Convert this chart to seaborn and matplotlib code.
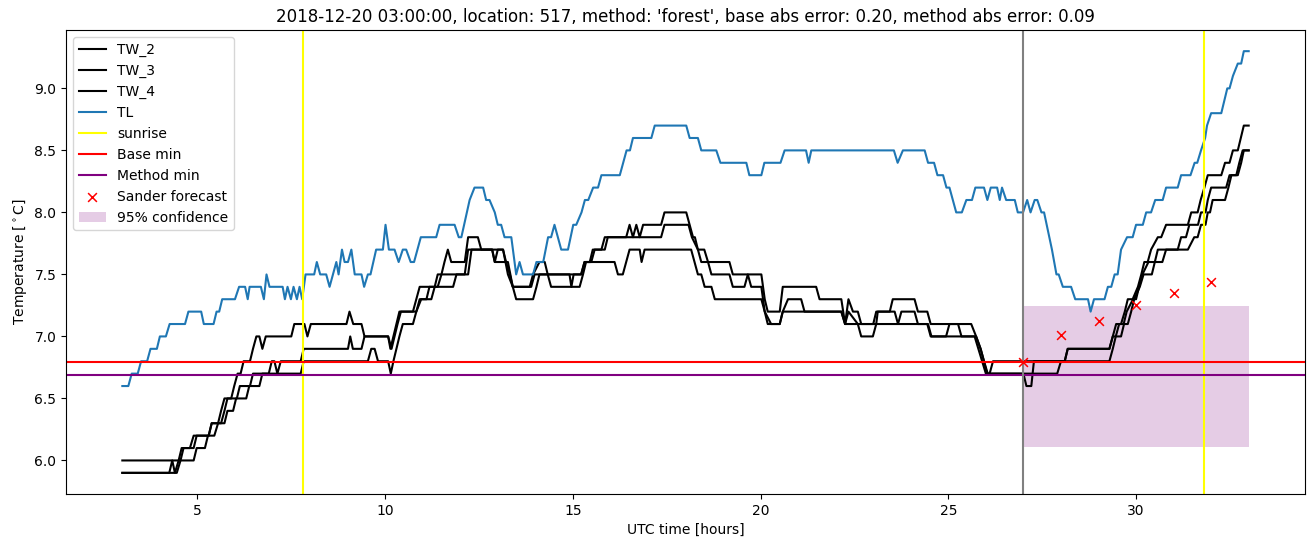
import numpy as np
import pandas as pd
import matplotlib
matplotlib.use("Agg")
import matplotlib.pyplot as plt
import seaborn as sns

# ---------------- data ----------------
title = ("2018-12-20 03:00:00, location: 517, method: 'forest', "
         "base abs error: 0.20, method abs error: 0.09")

# TL (air temperature) vertices: time [h], value [C]
tl_t = [3.0, 3.16, 3.25, 3.41, 3.50, 3.66, 3.75, 3.92, 4.00, 4.16, 4.26, 4.67, 4.76, 5.10, 5.17, 5.43,
        5.51, 5.58, 5.66, 6.00, 6.11, 6.27, 6.34, 6.39, 6.69, 6.77, 6.84, 6.92, 7.27, 7.33, 7.40, 7.49,
        7.56, 7.65, 7.72, 7.79, 7.88, 8.11, 8.18, 8.27, 8.43, 8.52, 8.70, 8.76, 8.85, 8.92, 9.01, 9.10,
        9.19, 9.37, 9.44, 9.54, 9.61, 9.76, 9.94, 10.01, 10.10, 10.25, 10.36, 10.47, 10.56, 10.68, 10.77,
        10.95, 11.36, 11.45, 11.85, 11.96, 12.03, 12.25, 12.38, 12.61, 12.69, 12.78, 12.92, 13.00, 13.09,
        13.18, 13.36, 13.49, 13.58, 13.67, 13.94, 14.03, 14.21, 14.34, 14.42, 14.51, 14.69, 14.87, 15.01,
        15.09, 15.23, 15.32, 15.41, 15.54, 15.67, 15.76, 16.25, 16.43, 16.52, 16.60, 17.09, 17.18, 18.02,
        18.11, 18.33, 18.42, 18.82, 18.93, 19.62, 19.70, 20.02, 20.10, 20.53, 20.64, 21.21, 21.28, 21.35,
        23.55, 23.65, 23.79, 24.37, 24.46, 24.62, 24.71, 24.86, 24.95, 25.03, 25.21, 25.36, 25.48, 25.63,
        25.72, 25.95, 26.04, 26.13, 26.30, 26.37, 26.43, 26.54, 26.77, 26.85, 26.99, 27.10, 27.19, 27.30,
        27.37, 27.48, 27.55, 27.76, 27.88, 27.94, 28.05, 28.27, 28.38, 28.72, 28.79, 28.88, 29.16, 29.25,
        29.34, 29.43, 29.51, 29.60, 29.76, 29.91, 30.00, 30.18, 30.27, 30.40, 30.51, 30.71, 30.80, 31.11,
        31.20, 31.45, 31.56, 31.63, 31.73, 31.84, 31.89, 32.00, 32.27, 32.43, 32.49, 32.58, 32.71, 32.80,
        32.87, 33.0]
tl_v = [6.6, 6.6, 6.7, 6.7, 6.8, 6.8, 6.9, 6.9, 7.0, 7.0, 7.1, 7.1, 7.2, 7.2, 7.1, 7.1,
        7.2, 7.2, 7.3, 7.3, 7.4, 7.4, 7.3, 7.4, 7.4, 7.3, 7.5, 7.4, 7.4, 7.3, 7.4, 7.3,
        7.4, 7.3, 7.4, 7.3, 7.5, 7.5, 7.6, 7.5, 7.5, 7.4, 7.6, 7.5, 7.7, 7.6, 7.6, 7.7,
        7.5, 7.5, 7.4, 7.5, 7.5, 7.7, 7.7, 7.9, 7.7, 7.7, 7.6, 7.7, 7.7, 7.6, 7.6,
        7.8, 7.8, 7.9, 7.9, 7.8, 7.8, 8.1, 8.2, 8.2, 8.1, 8.1, 8.0, 7.9, 7.9,
        7.8, 7.8, 7.5, 7.6, 7.5, 7.5, 7.6, 7.6, 7.8, 7.8, 7.9, 7.7, 7.7, 7.9,
        7.9, 8.0, 8.1, 8.1, 8.2, 8.2, 8.3, 8.3, 8.5, 8.5, 8.6, 8.6, 8.7, 8.7,
        8.6, 8.6, 8.5, 8.5, 8.4, 8.4, 8.3, 8.3, 8.4, 8.4, 8.5, 8.5, 8.4, 8.5,
        8.5, 8.4, 8.5, 8.5, 8.4, 8.4, 8.3, 8.3, 8.2, 8.2, 8.0, 8.0, 8.1, 8.1,
        8.2, 8.2, 8.1, 8.2, 8.2, 8.1, 8.2, 8.1, 8.1, 8.0, 8.0, 8.1, 8.0, 8.1,
        8.1, 8.0, 8.0, 7.7, 7.5, 7.5, 7.4, 7.4, 7.3, 7.3, 7.2, 7.3, 7.3, 7.4,
        7.4, 7.5, 7.5, 7.7, 7.8, 7.8, 7.9, 7.9, 8.0, 8.0, 8.1, 8.1, 8.2, 8.2,
        8.3, 8.3, 8.4, 8.4, 8.5, 8.6, 8.7, 8.8, 8.8, 9.0, 9.0, 9.1, 9.2, 9.2,
        9.3, 9.3]

# TW_2 vertices
tw2_t = [3.0, 4.55, 4.63, 4.80, 4.90, 5.30, 5.38, 5.55, 5.63, 5.72, 5.90, 5.98, 6.07, 6.15, 6.23, 6.40,
         6.48, 6.57, 6.65, 6.73, 6.82, 7.50, 7.58, 7.85, 7.93, 8.02, 8.97, 9.05, 9.15, 9.37, 9.45, 10.08,
         10.17, 10.25, 10.33, 10.42, 10.74, 10.83, 10.92, 11.40, 11.50, 11.58, 11.67, 11.76, 12.12, 12.21,
         12.47, 12.56, 13.14, 13.22, 13.32, 13.40,
         13.85, 13.94, 14.11, 14.25, 14.33, 14.42, 15.18, 15.27, 15.35, 15.49, 15.58, 15.85, 15.93, 16.42,
         16.51, 16.60, 16.69, 16.78, 16.87, 17.35, 17.44, 18.02, 18.11, 18.20, 18.25, 18.33, 18.50,
         18.60, 19.17, 19.26, 20.02, 20.11, 20.19, 20.51, 20.59, 21.48,
         21.57, 22.15, 22.25, 22.34, 22.46, 22.59, 22.68, 23.00, 23.08, 23.44, 23.52, 24.10, 24.19, 24.44,
         24.53, 25.61, 25.74, 25.86, 25.95, 26.03, 26.10, 26.19, 28.10, 28.18, 29.29, 29.38, 29.47, 29.60,
         29.70, 29.78, 29.91, 30.05, 30.14, 30.22, 30.31, 30.40, 30.58, 30.67, 30.80, 31.38, 31.47, 31.64,
         31.72, 31.82, 31.91, 32.27, 32.37, 32.49, 32.58, 32.71, 32.87, 33.0]
tw2_v = [6.0, 6.0, 6.1, 6.1, 6.2, 6.2, 6.3, 6.3, 6.4, 6.5, 6.5, 6.6, 6.7, 6.7, 6.8, 6.8,
         6.9, 7.0, 7.0, 6.9, 7.0, 7.0, 7.1, 7.1, 7.0, 7.1, 7.1, 7.2, 7.1, 7.1, 7.0, 7.0,
         6.9, 7.0, 7.1, 7.2, 7.2, 7.3, 7.4, 7.4, 7.5, 7.6, 7.7, 7.6, 7.6, 7.8,
         7.8, 7.7, 7.7, 7.6, 7.5, 7.4,
         7.4, 7.5, 7.6, 7.6, 7.5, 7.4, 7.4, 7.5, 7.6, 7.6, 7.7, 7.7, 7.8, 7.8,
         7.9, 7.8, 7.9, 7.8, 7.9, 7.9, 8.0, 8.0, 7.9, 7.8, 7.8, 7.7, 7.7,
         7.6, 7.6, 7.5, 7.5, 7.3, 7.2, 7.2, 7.4, 7.4,
         7.3, 7.3, 7.1, 7.3, 7.2, 7.2, 7.1, 7.1, 7.2, 7.2, 7.3, 7.3, 7.2, 7.2,
         7.1, 7.1, 7.0, 6.9, 6.8, 6.7, 6.7, 6.8, 6.8, 6.9, 6.9, 7.0, 7.1, 7.1,
         7.2, 7.3, 7.3, 7.4, 7.5, 7.6, 7.6, 7.7, 7.8, 7.8, 7.9, 7.9, 8.0, 8.0,
         8.1, 8.2, 8.3, 8.3, 8.4, 8.4, 8.5, 8.5, 8.7, 8.7]

# TW_3 vertices
tw3_t = [3.0, 4.25, 4.33, 4.40, 4.50, 4.58, 4.90, 4.98, 5.30, 5.38, 5.63, 5.72, 5.80, 6.05, 6.13, 6.40,
         6.48, 6.90, 6.98, 7.05, 7.13, 7.22, 7.75, 7.83, 9.01, 9.07, 9.14, 9.37, 9.45, 10.08, 10.14, 10.22,
         10.30, 10.38, 10.83, 10.92, 11.10, 11.18, 11.32, 11.40, 12.12, 12.21, 12.85, 12.92, 13.00, 13.14,
         13.27, 13.40,
         13.89, 13.98, 14.91, 14.96, 15.02, 15.22, 15.31, 15.45, 15.53, 15.76, 15.85, 17.35, 17.44, 18.08,
         18.17, 18.33, 18.42, 18.60, 18.69, 19.17, 19.26, 19.57, 19.66, 19.75,
         20.02, 20.11, 20.19, 20.51, 20.59, 20.73, 21.08, 21.17, 22.15, 22.25, 22.34, 22.59, 23.08, 23.12,
         23.57, 23.66, 23.75, 24.10, 24.19, 24.46, 24.55, 24.94, 25.03, 25.26, 25.35, 25.74, 25.86, 25.95,
         26.05, 27.90, 28.00, 29.29, 29.38, 29.46, 29.55, 29.67, 29.75, 29.92, 30.00, 30.08, 30.17, 30.33,
         30.50, 30.58, 31.11, 31.20, 31.33, 31.42, 31.65, 31.73, 31.85, 31.91, 32.00, 32.40, 32.49, 32.67,
         32.75, 32.84, 33.0]
tw3_v = [5.9, 5.9, 6.0, 5.9, 6.0, 6.1, 6.1, 6.2, 6.2, 6.3, 6.3, 6.4, 6.5, 6.5, 6.6, 6.6,
         6.7, 6.7, 6.8, 6.8, 6.7, 6.8, 6.8, 6.9, 6.9, 7.0, 6.9, 6.9, 7.0, 7.0, 6.9, 7.0,
         7.1, 7.2, 7.2, 7.3, 7.3, 7.4, 7.4, 7.5, 7.5, 7.7, 7.7, 7.6, 7.7, 7.7,
         7.5, 7.4,
         7.4, 7.5, 7.5, 7.4, 7.5, 7.5, 7.6, 7.6, 7.7, 7.7, 7.8, 7.8, 7.9, 7.9,
         7.8, 7.7, 7.6, 7.6, 7.5, 7.5, 7.4, 7.4, 7.5, 7.4,
         7.4, 7.2, 7.1, 7.1, 7.2, 7.3, 7.3, 7.2, 7.2, 7.1, 7.2, 7.1, 7.1, 7.2,
         7.2, 7.1, 7.2, 7.2, 7.1, 7.1, 7.0, 7.0, 7.1, 7.1, 7.0, 7.0, 6.9, 6.8,
         6.7, 6.7, 6.8, 6.8, 6.9, 7.0, 7.1, 7.1, 7.2, 7.3, 7.3, 7.4, 7.5, 7.6,
         7.6, 7.7, 7.7, 7.8, 7.8, 7.9, 7.9, 8.0, 8.0, 8.1, 8.2, 8.2, 8.3, 8.3,
         8.4, 8.5, 8.5]

# TW_4 vertices
tw4_t = [3.0, 4.45, 4.55, 4.90, 4.98, 5.20, 5.28, 5.45, 5.55, 5.72, 5.80, 5.95, 6.03, 6.30, 6.38, 6.65,
         6.73, 7.75, 7.83, 9.54, 9.63, 9.72, 9.81, 10.08, 10.15, 10.22, 10.30, 10.38, 10.47, 10.74, 10.83,
         10.96, 11.23, 11.32, 11.81, 11.90, 12.21, 12.30, 12.85, 12.92, 13.27, 13.40, 13.49,
         13.94, 14.03, 14.11, 15.22, 15.31, 16.11, 16.20, 16.33, 16.42, 16.51, 16.78, 16.83, 16.91, 18.15,
         18.24, 18.33, 18.42, 18.51, 18.69, 18.78, 20.02,
         20.11, 20.28, 20.51, 20.59, 22.15, 22.25, 22.59, 22.68, 22.99, 23.08, 24.44, 24.53, 25.61, 25.70,
         25.80, 25.90, 26.00, 27.00, 27.08, 27.21, 27.28, 28.10, 28.18, 29.29, 29.38, 29.60, 29.68, 29.78,
         29.87, 29.95, 30.10, 30.20, 30.42, 30.50, 30.70, 30.80, 31.38, 31.55, 31.64, 31.73, 31.85, 31.91,
         31.97, 32.04, 32.37, 32.46, 32.54, 32.71, 32.80, 32.87, 33.0]
tw4_v = [5.9, 5.9, 6.0, 6.0, 6.1, 6.1, 6.2, 6.2, 6.3, 6.3, 6.4, 6.4, 6.5, 6.5, 6.6, 6.6,
         6.7, 6.7, 6.8, 6.8, 6.9, 6.9, 6.8, 6.8, 6.7, 6.8, 6.9, 7.0, 7.1, 7.1, 7.2,
         7.3, 7.3, 7.4, 7.4, 7.5, 7.5, 7.7, 7.7, 7.6, 7.6, 7.4, 7.3,
         7.3, 7.4, 7.5, 7.5, 7.6, 7.6, 7.5, 7.5, 7.6, 7.7, 7.7, 7.6, 7.7, 7.7,
         7.6, 7.5, 7.5, 7.4, 7.4, 7.3, 7.3,
         7.2, 7.1, 7.1, 7.2, 7.2, 7.1, 7.1, 7.0, 7.0, 7.1, 7.1, 7.0, 7.0, 7.0,
         6.9, 6.8, 6.7, 6.7, 6.6, 6.6, 6.8, 6.8, 6.9, 6.9, 7.0, 7.0, 7.1, 7.1,
         7.2, 7.3, 7.4, 7.5, 7.5, 7.6, 7.6, 7.7, 7.7, 7.8, 7.8, 7.9, 7.9, 8.0,
         8.0, 8.1, 8.1, 8.2, 8.3, 8.3, 8.4, 8.5, 8.5]

sunrise_hours = [7.8, 31.8]
forecast_start = 27.0
base_min = 6.797
method_min = 6.687
forecast_hours = [27, 28, 29, 30, 31, 32]
forecast_values = [6.795, 7.01, 7.125, 7.255, 7.35, 7.44]
conf_hours = [27.0, 33.0]
conf_low = [6.105, 6.105]
conf_high = [7.243, 7.243]

# ---------------- plot ----------------
fig, ax = plt.subplots(figsize=(13.15, 5.47), dpi=100)
fig.subplots_adjust(left=0.0502, right=0.9924, bottom=0.097, top=0.945)

for t, v, lab in [(tw2_t, tw2_v, "TW_2"), (tw3_t, tw3_v, "TW_3"), (tw4_t, tw4_v, "TW_4")]:
    sns.lineplot(x=t, y=v, color="black", label=lab, ax=ax, estimator=None, linewidth=1.5)
sns.lineplot(x=tl_t, y=tl_v, color="#1f77b4", label="TL", ax=ax, estimator=None, linewidth=1.5)

ax.axvline(sunrise_hours[0], color="yellow", label="sunrise")
ax.axvline(sunrise_hours[1], color="yellow")
ax.axhline(base_min, color="red", label="Base min")
ax.axhline(method_min, color="purple", label="Method min")
ax.axvline(forecast_start, color="gray")
sns.scatterplot(x=forecast_hours, y=forecast_values, marker="x", color="red",
                linewidth=1.1, s=40, label="Sander forecast", ax=ax, zorder=3)
ax.fill_between(conf_hours, conf_low, conf_high, color="purple", alpha=0.2,
                linewidth=0, label="95% confidence")

ax.set_title(title, fontsize=12)
ax.set_xlabel("UTC time [hours]")
ax.set_ylabel(r"Temperature [$^\circ$C]")
ax.legend(loc="upper left")

fig.savefig("out.png", dpi=100)
